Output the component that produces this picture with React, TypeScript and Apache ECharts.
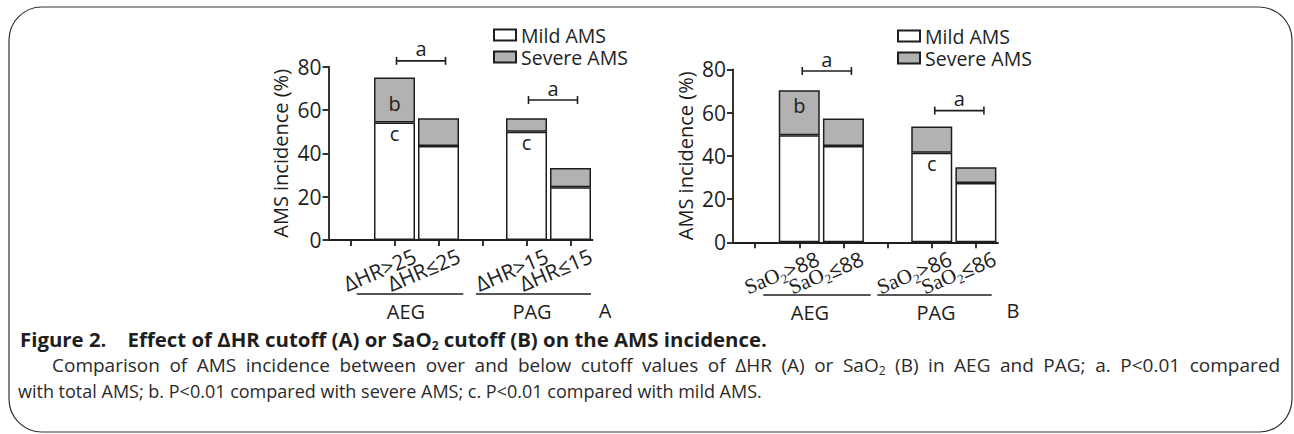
import React, { useEffect, useRef } from 'react';
import * as echarts from 'echarts';

// ---------- data ----------
const categoriesA = ['', 'ΔHR>25', 'ΔHR≤25', ' ', 'ΔHR>15', 'ΔHR≤15'];
const categoriesB = ['', '{s|SaO}{u|2}{t|>88}', '{s|SaO}{u|2}{t|≤88}', ' ', '{s|SaO}{u|2}{t|>86}', '{s|SaO}{u|2}{t|≤86}'];
const mildA = [null, 54.2, 43.4, null, 50.0, 24.3];
const severeA = [null, 20.8, 12.8, null, 6.2, 8.9];
const mildB = [null, 49.5, 44.5, null, 41.4, 27.4];
const severeB = [null, 20.8, 12.8, null, 12.1, 7.3];
const mildLettersA = ['', 'c', '', '', 'c', ''];
const severeLettersA = ['', 'b', '', '', '', ''];
const mildLettersB = ['', '', '', '', 'c', ''];
const severeLettersB = ['', 'b', '', '', '', ''];
// significance brackets: [from category, y value, to category]
const bracketsA = [[1, 82.7, 2], [4, 64.6, 5]];
const bracketsB = [[1, 79.2, 2], [4, 60.9, 5]];
const yMin = 0;
const yMax = 80;
const yInterval = 20;
const seriesNames = ['Mild AMS', 'Severe AMS'];
const groupNames = ['AEG', 'PAG'];
const panelNames = ['A', 'B'];
const captionTitle = 'Figure 2.    Effect of ΔHR cutoff (A) or SaO{sb|2} cutoff (B) on the AMS incidence.';
const captionLine2 = 'Comparison of AMS incidence between over and below cutoff values of ΔHR (A) or SaO_2 (B) in AEG and PAG; a. P<0.01 compared';
const captionLine3 = 'with total AMS; b. P<0.01 compared with severe AMS; c. P<0.01 compared with mild AMS.';

const FONT = "'Open Sans', 'Noto Sans', sans-serif";
const SERIF = "'Liberation Serif', 'DejaVu Serif', serif";
const INK = '#1e1e1e';
const CAP_INK = '#2a2a2a';
const CAP_SIZE = 18;
const CAP2_SIZE = 19;
const CAP_SUB = 12;

function buildItems(values: (number | null)[], letters: string[], position: string, offset: number[]) {
  return values.map((v, i) =>
    v == null
      ? '-'
      : letters[i]
      ? {
          value: v,
          label: {
            show: true,
            formatter: letters[i],
            position,
            distance: 1,
            offset,
            fontSize: 20,
            fontFamily: FONT,
            color: INK,
          },
        }
      : v
  );
}

function bracketRender(startShift: number, endShift: number) {
  return (params: any, api: any) => {
    const p1 = api.coord([api.value(0), api.value(1)]);
    const p2 = api.coord([api.value(2), api.value(1)]);
    const x1 = p1[0] + startShift;
    const x2 = p2[0] + endShift;
    const y = p1[1];
    const st = { stroke: INK, lineWidth: 1.6 };
    return {
      type: 'group',
      children: [
        { type: 'line', shape: { x1, y1: y, x2, y2: y }, style: st },
        { type: 'line', shape: { x1, y1: y - 4, x2: x1, y2: y + 4 }, style: st },
        { type: 'line', shape: { x1: x2, y1: y - 4, x2, y2: y + 4 }, style: st },
        {
          type: 'text',
          x: (x1 + x2) / 2,
          y: y - 12,
          style: {
            text: 'a',
            fontSize: 20,
            fontFamily: FONT,
            fill: INK,
            align: 'center',
            verticalAlign: 'middle',
          },
        },
      ],
    };
  };
}

function makeYAxis(gridIndex: number) {
  return {
    type: 'value',
    gridIndex,
    min: yMin,
    max: yMax,
    interval: yInterval,
    name: 'AMS incidence (%)',
    nameLocation: 'middle',
    nameGap: 38,
    nameTextStyle: { fontSize: 20, fontFamily: FONT, color: INK },
    axisLine: { show: true, lineStyle: { color: INK, width: 1.8 } },
    axisTick: { show: true, length: 6, lineStyle: { color: INK, width: 1.8 } },
    axisLabel: { fontSize: 21, fontFamily: FONT, color: INK, margin: 7 },
    splitLine: { show: false },
  };
}

function makeXAxis(gridIndex: number, data: string[], padRight: number, margin: number) {
  return {
    type: 'category',
    gridIndex,
    data,
    axisLine: { show: true, lineStyle: { color: INK, width: 1.8 } },
    axisTick: { show: true, alignWithLabel: true, length: 6, interval: 0, lineStyle: { color: INK, width: 1.8 } },
    axisLabel: {
      interval: 0,
      rotate: 23,
      align: 'center',
      verticalAlign: 'middle',
      margin,
      padding: [0, padRight, 0, 0],
      fontSize: 21,
      fontFamily: FONT,
      color: INK,
      hideOverlap: false,
      rich: {
        s: { fontFamily: SERIF, fontSize: 21, color: INK, lineHeight: 26 },
        u: { fontFamily: SERIF, fontSize: 13, color: INK, lineHeight: 14, verticalAlign: 'bottom' },
        t: { fontFamily: FONT, fontSize: 21, color: INK, lineHeight: 26 },
      },
    },
    splitLine: { show: false },
  };
}

const barMild = { color: '#ffffff', borderColor: INK, borderWidth: 1.5 };
const barSevere = { color: '#b2b2b2', borderColor: INK, borderWidth: 1.5 };

function legendAt(left: number, top: number) {
  return {
    data: seriesNames,
    orient: 'vertical',
    left,
    top,
    padding: 0,
    itemWidth: 22,
    itemHeight: 11,
    itemGap: 2,
    icon: 'rect',
    selectedMode: false,
    textStyle: { fontSize: 19.5, lineHeight: 19, fontFamily: FONT, color: INK },
  };
}

function justifiedLine(text: string, x0: number, x1: number, y: number, size: number) {
  const canvas = document.createElement('canvas');
  const ctx = canvas.getContext('2d') as CanvasRenderingContext2D;
  const measure = (t: string, s: number) => {
    ctx.font = `${s}px "Open Sans"`;
    return ctx.measureText(t).width;
  };
  const words = text.split(' ').map((w) => {
    if (w.includes('_')) {
      const [base, sub] = w.split('_');
      return { rich: `${base}{sr|${sub}}`, width: measure(base, size) + measure(sub, CAP_SUB) };
    }
    return { rich: w, width: measure(w, size) };
  });
  const total = words.reduce((s, w) => s + w.width, 0);
  const gap = (x1 - x0 - total) / (words.length - 1);
  let x = x0;
  return words.map((w) => {
    const el = {
      type: 'text',
      x,
      y,
      style: {
        text: w.rich,
        fontSize: size,
        fontFamily: FONT,
        fill: CAP_INK,
        align: 'left',
        verticalAlign: 'middle',
        lineHeight: 22,
        rich: {
          sr: { fontSize: CAP_SUB, fontFamily: FONT, fill: CAP_INK, lineHeight: 12, verticalAlign: 'bottom' },
        },
      },
    };
    x += w.width + gap;
    return el;
  });
}

export default function App() {
  const ref = useRef<HTMLDivElement>(null);

  useEffect(() => {
    document.body.style.margin = '0';
    if (!ref.current) return;
    const chart = echarts.init(ref.current, null, { renderer: 'svg' });

    const lineSt = { stroke: INK, lineWidth: 1.6 };
    const txt = (text: string, x: number, y: number) => ({
      type: 'text',
      x,
      y,
      style: {
        text,
        fontSize: 20,
        fontFamily: FONT,
        fill: INK,
        align: 'center',
        verticalAlign: 'middle',
      },
    });

    const option: any = {
      animation: false,
      backgroundColor: '#ffffff',
      textStyle: { fontFamily: FONT },
      grid: [
        { left: 328.5, top: 66.7, width: 264, height: 173.3, outerBoundsMode: 'none', containLabel: false },
        { left: 733, top: 69.3, width: 265, height: 173, outerBoundsMode: 'none', containLabel: false },
      ],
      xAxis: [makeXAxis(0, categoriesA, 32, 23.5), makeXAxis(1, categoriesB, 38, 23)],
      yAxis: [makeYAxis(0), makeYAxis(1)],
      legend: [legendAt(493, 25), legendAt(897, 26)],
      series: [
        {
          name: seriesNames[0],
          type: 'bar',
          stack: 'A',
          xAxisIndex: 0,
          yAxisIndex: 0,
          barWidth: 41,
          itemStyle: barMild,
          data: buildItems(mildA, mildLettersA, 'insideTop', [0, 0]),
        },
        {
          name: seriesNames[1],
          type: 'bar',
          stack: 'A',
          xAxisIndex: 0,
          yAxisIndex: 0,
          barWidth: 41,
          itemStyle: barSevere,
          data: buildItems(severeA, severeLettersA, 'inside', [0, 3]),
        },
        {
          name: seriesNames[0],
          type: 'bar',
          stack: 'B',
          xAxisIndex: 1,
          yAxisIndex: 1,
          barWidth: 41,
          itemStyle: barMild,
          data: buildItems(mildB, mildLettersB, 'insideTop', [0, 0]),
        },
        {
          name: seriesNames[1],
          type: 'bar',
          stack: 'B',
          xAxisIndex: 1,
          yAxisIndex: 1,
          barWidth: 41,
          itemStyle: barSevere,
          data: buildItems(severeB, severeLettersB, 'inside', [0, -7]),
        },
        {
          type: 'custom',
          xAxisIndex: 0,
          yAxisIndex: 0,
          encode: { x: 0, y: 1 },
          renderItem: bracketRender(2, 7),
          data: bracketsA,
          z: 5,
        },
        {
          type: 'custom',
          xAxisIndex: 1,
          yAxisIndex: 1,
          encode: { x: 0, y: 1 },
          renderItem: bracketRender(3, 8),
          data: bracketsB,
          z: 5,
        },
      ],
      graphic: [
        {
          type: 'rect',
          shape: { x: 9, y: 7, width: 1283, height: 425, r: 33 },
          style: { fill: 'none', stroke: '#333', lineWidth: 1.2 },
          z: 0,
        },
        // group lines and labels, panel A
        { type: 'line', shape: { x1: 356.7, y1: 294, x2: 463.3, y2: 294 }, style: lineSt },
        { type: 'line', shape: { x1: 476, y1: 294, x2: 591, y2: 294 }, style: lineSt },
        txt(groupNames[0], 406, 311),
        txt(groupNames[1], 532, 311),
        txt(panelNames[0], 605, 310),
        // panel B
        { type: 'line', shape: { x1: 763.3, y1: 295, x2: 870.7, y2: 295 }, style: lineSt },
        { type: 'line', shape: { x1: 877.3, y1: 295, x2: 991.7, y2: 295 }, style: lineSt },
        txt(groupNames[0], 810, 312),
        txt(groupNames[1], 936, 312),
        txt(panelNames[1], 1013, 310),
        // caption
        {
          type: 'text',
          x: 20,
          y: 339,
          style: {
            text: captionTitle,
            fontSize: 20.4,
            fontWeight: 'bold',
            fontFamily: FONT,
            fill: INK,
            align: 'left',
            verticalAlign: 'middle',
            lineHeight: 24,
            rich: {
              sb: { fontSize: 12, fontWeight: 'bold', fontFamily: FONT, fill: INK, lineHeight: 14, verticalAlign: 'bottom' },
            },
          },
        },
        ...justifiedLine(captionLine2, 52, 1280, 365, CAP2_SIZE),
        {
          type: 'text',
          x: 18,
          y: 391,
          style: {
            text: captionLine3,
            fontSize: CAP_SIZE,
            fontFamily: FONT,
            fill: CAP_INK,
            align: 'left',
            verticalAlign: 'middle',
          },
        },
      ],
    };

    chart.setOption(option);
    return () => chart.dispose();
  }, []);

  return <div ref={ref} style={{ width: 1294, height: 434 }} />;
}
